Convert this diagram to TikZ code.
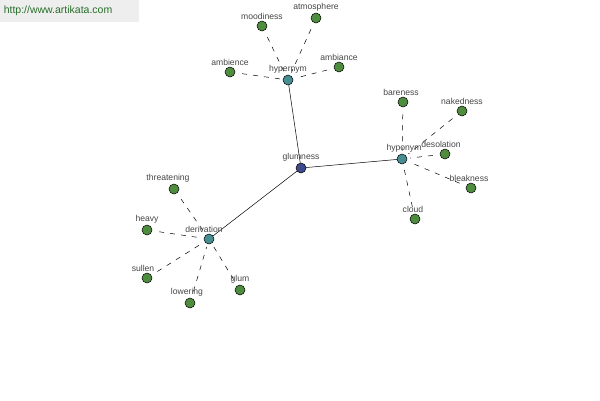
\documentclass[tikz,border=0pt]{standalone}
\usepackage{fontspec}
\setmainfont{Liberation Sans}
\usetikzlibrary{backgrounds}
\definecolor{ink}{RGB}{70,70,70}
\definecolor{leafgreen}{RGB}{78,140,62}
\definecolor{hubteal}{RGB}{70,142,146}
\definecolor{corenavy}{RGB}{62,74,140}
\definecolor{sitegreen}{RGB}{40,110,40}
\definecolor{bannergray}{RGB}{238,238,238}
\tikzset{
  every picture/.style={x=1pt, y=-1pt, line width=0.5pt, font=\fontsize{8.6}{9}\selectfont},
  every label/.style={text=ink, inner sep=1pt},
  dot/.style={circle, draw=black, inner sep=0pt, minimum size=10pt, line width=0.5pt, label distance=0.5pt},
  word/.style={dot, fill=leafgreen},
  rel/.style={dot, fill=hubteal},
  head/.style={dot, fill=corenavy},
  link/.style={draw=black, line width=0.5pt},
  loose/.style={draw=black, line width=0.5pt, dash pattern=on 5pt off 6pt, shorten <=7pt, shorten >=3pt},
  banner/.style={fill=bannergray, text=sitegreen, font=\fontsize{10.5}{12}\selectfont,
    minimum width=138pt, minimum height=21pt, inner sep=0pt, text width=131pt, align=left},
}

\begin{document}
\begin{tikzpicture}
  \useasboundingbox (0,0) rectangle (600,400);
  % banner
  \node[banner, anchor=north west] (site) at (0,0) {http://www.artikata.com};
  % centre and relations
  \node[head, label=above:glumness] (glumness) at (301,168) {};
  \node[rel, label=above:hypernym] (hyper) at (288,80) {};
  \node[rel, label={[xshift=2pt]above:hyponym}] (hypo) at (402,159) {};
  \node[rel, label={[xshift=-5pt]above:derivation}] (deriv) at (209,239) {};
  % hypernym words
  \node[word, label=above:moodiness] (moodiness) at (262,26) {};
  \node[word, label=above:atmosphere] (atmosphere) at (316,18) {};
  \node[word, label=above:ambience] (ambience) at (230,72) {};
  \node[word, label=above:ambiance] (ambiance) at (339,67) {};
  % hyponym words
  \node[word, label={[xshift=-2pt]above:bareness}] (bareness) at (403,102) {};
  \node[word, label=above:nakedness] (nakedness) at (462,111) {};
  \node[word, label={[xshift=-4pt]above:desolation}] (desolation) at (445,154) {};
  \node[word, label={[xshift=-2pt]above:bleakness}] (bleakness) at (471,188) {};
  \node[word, label={[xshift=-2pt]above:cloud}] (cloud) at (415,219) {};
  % derivation words
  \node[word, label={[xshift=-6pt]above:threatening}] (threatening) at (174,189) {};
  \node[word, label=above:heavy] (heavy) at (147,230) {};
  \node[word, label={[xshift=-4pt]above:sullen}] (sullen) at (147,278) {};
  \node[word, label={[xshift=-3pt]above:lowering}] (lowering) at (190,303) {};
  \node[word, label=above:glum] (glum) at (240,290) {};
  % connectors
  \begin{scope}[on background layer]
    \fill[white] (0,0) rectangle (600,400);
    \fill[bannergray] (site.north west) rectangle (site.south east);
    \draw[link] (glumness) -- (hyper);
    \draw[link] (glumness) -- (hypo);
    \draw[link] (glumness) -- (deriv);
    \foreach \w in {moodiness,atmosphere,ambience,ambiance}
      \draw[loose] (\w) -- (hyper);
    \foreach \w in {bareness,nakedness,desolation,bleakness,cloud}
      \draw[loose] (\w) -- (hypo);
    \foreach \w in {threatening,heavy,sullen,lowering,glum}
      \draw[loose] (\w) -- (deriv);
  \end{scope}
\end{tikzpicture}
\end{document}
